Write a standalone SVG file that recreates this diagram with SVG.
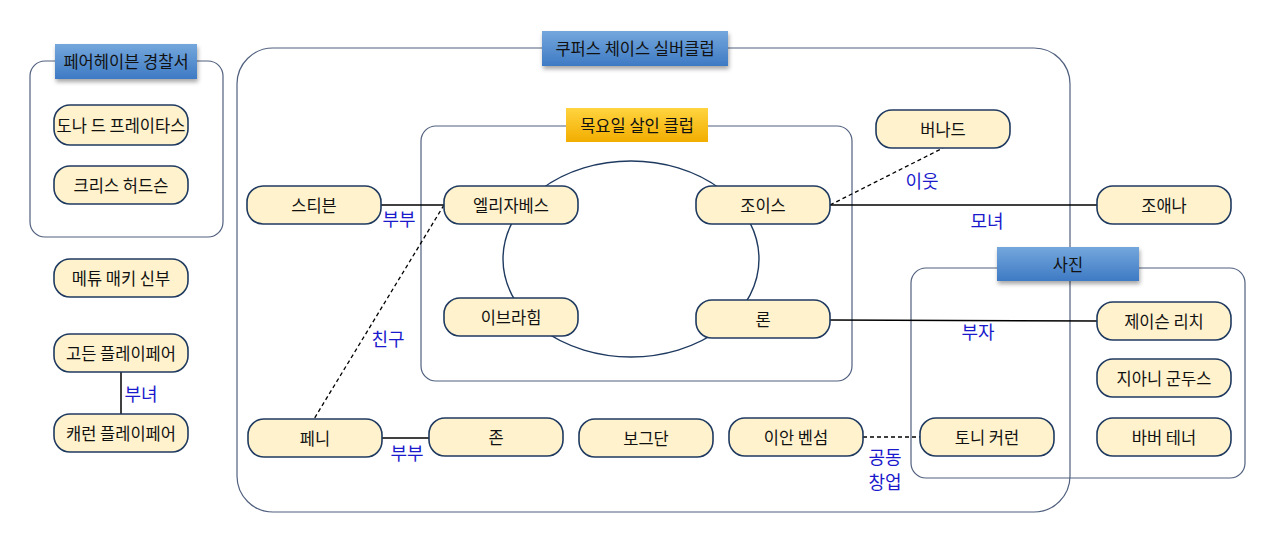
<svg xmlns="http://www.w3.org/2000/svg" width="1280" height="535" viewBox="0 0 1280 535">
<defs>
<linearGradient id="gBlue" x1="0" y1="0" x2="0" y2="1"><stop offset="0" stop-color="#74a7dc"/><stop offset="1" stop-color="#3e7ac4"/></linearGradient>
<linearGradient id="gGold" x1="0" y1="0" x2="0" y2="1"><stop offset="0" stop-color="#ffd43f"/><stop offset="1" stop-color="#f2ad00"/></linearGradient>
<filter id="sh" x="-10%" y="-20%" width="130%" height="160%"><feDropShadow dx="1" dy="3" stdDeviation="2" flood-color="#000" flood-opacity="0.35"/></filter>
</defs>
<style>
text{font-family:"Noto Sans CJK KR","Noto Sans",sans-serif;}
.c{fill:none;stroke:#50607e;stroke-width:1.2}
.n rect{fill:#fff2cc;stroke:#1f3a60;stroke-width:1.6}
.n text{font-size:16.5px;fill:#111;text-anchor:middle;dominant-baseline:central}
.t text{font-size:16.5px;fill:#111;text-anchor:middle;dominant-baseline:central}
.l{font-size:18px;fill:#1a1acc;text-anchor:middle;dominant-baseline:central}
.s{stroke:#000;stroke-width:1.5;fill:none}
.d{stroke:#000;stroke-width:1.3;stroke-dasharray:4 3;fill:none}
</style>
<rect width="1280" height="535" fill="#fff"/>
<g id="containers">
<rect class="c" x="237" y="48" width="833" height="464" rx="36"/>
<rect class="c" x="30" y="61" width="193" height="176" rx="15"/>
<rect class="c" x="421" y="126" width="431" height="255" rx="15"/>
<rect class="c" x="911" y="268" width="334" height="210" rx="15"/>
<ellipse cx="631" cy="259" rx="128" ry="98" fill="none" stroke="#1f3a60" stroke-width="1.4"/>
</g>
<g id="titles">
<g id="t-cooper" class="t"><rect x="542" y="31" width="186" height="35" fill="url(#gBlue)" filter="url(#sh)"/><text x="635" y="48">쿠퍼스 체이스 실버클럽</text></g>
<g id="t-police" class="t"><rect x="55" y="44" width="142" height="35" fill="url(#gBlue)" filter="url(#sh)"/><text x="126" y="61">페어헤이븐 경찰서</text></g>
<g id="t-club" class="t"><rect x="566" y="108" width="142" height="34" fill="url(#gGold)"/><text x="637" y="125">목요일 살인 클럽</text></g>
<g id="t-photo" class="t"><rect x="997" y="247" width="142" height="34" fill="url(#gBlue)" filter="url(#sh)"/><text x="1068" y="264">사진</text></g>
</g>
<g id="connectors">
<line class="s" x1="121" y1="372" x2="121" y2="414"/>
<line class="s" x1="381" y1="205" x2="444" y2="205"/>
<line class="d" x1="444" y1="205" x2="314" y2="419"/>
<line class="d" x1="830" y1="205" x2="943" y2="148"/>
<line class="s" x1="830" y1="205" x2="1097" y2="205"/>
<line class="s" x1="830" y1="320" x2="1097" y2="321"/>
<line class="s" x1="382" y1="438" x2="429" y2="438" stroke-width="2.5"/>
<line class="d" x1="863" y1="437" x2="920" y2="437"/>
<text class="l" x="141" y="393">부녀</text>
<text class="l" x="399" y="218">부부</text>
<text class="l" x="388" y="338">친구</text>
<text class="l" x="922" y="180">이웃</text>
<text class="l" x="987" y="220">모녀</text>
<text class="l" x="978" y="331">부자</text>
<text class="l" x="407" y="452">부부</text>
<text class="l" x="885" y="456">공동</text>
<text class="l" x="885" y="481">창업</text>
</g>
<g id="n-donna" class="n"><rect x="54" y="105" width="134" height="40" rx="16"/><text x="121" y="125">도나 드 프레이타스</text></g>
<g id="n-chris" class="n"><rect x="54" y="166" width="134" height="38" rx="16"/><text x="121" y="185">크리스 허드슨</text></g>
<g id="n-mackie" class="n"><rect x="54" y="259" width="134" height="38" rx="16"/><text x="121" y="278">메튜 매키 신부</text></g>
<g id="n-gordon" class="n"><rect x="54" y="334" width="134" height="38" rx="16"/><text x="121" y="353">고든 플레이페어</text></g>
<g id="n-karen" class="n"><rect x="54" y="414" width="134" height="38" rx="16"/><text x="121" y="433">캐런 플레이페어</text></g>
<g id="n-stephen" class="n"><rect x="247" y="186" width="134" height="38" rx="16"/><text x="314" y="205">스티븐</text></g>
<g id="n-elizabeth" class="n"><rect x="444" y="186" width="134" height="38" rx="16"/><text x="511" y="205">엘리자베스</text></g>
<g id="n-joyce" class="n"><rect x="696" y="186" width="134" height="38" rx="16"/><text x="763" y="205">조이스</text></g>
<g id="n-bernard" class="n"><rect x="876" y="110" width="134" height="38" rx="16"/><text x="943" y="129">버나드</text></g>
<g id="n-joanna" class="n"><rect x="1097" y="186" width="134" height="38" rx="16"/><text x="1164" y="205">조애나</text></g>
<g id="n-ibrahim" class="n"><rect x="444" y="298" width="134" height="38" rx="16"/><text x="511" y="317">이브라힘</text></g>
<g id="n-ron" class="n"><rect x="696" y="300" width="134" height="38" rx="16"/><text x="763" y="319">론</text></g>
<g id="n-jason" class="n"><rect x="1097" y="302" width="134" height="38" rx="16"/><text x="1164" y="321">제이슨 리치</text></g>
<g id="n-gianni" class="n"><rect x="1097" y="359" width="134" height="38" rx="16"/><text x="1164" y="378">지아니 군두스</text></g>
<g id="n-bobby" class="n"><rect x="1097" y="418" width="134" height="38" rx="16"/><text x="1164" y="437">바버 테너</text></g>
<g id="n-penny" class="n"><rect x="248" y="419" width="134" height="38" rx="16"/><text x="315" y="438">페니</text></g>
<g id="n-john" class="n"><rect x="429" y="418" width="134" height="38" rx="16"/><text x="496" y="437">존</text></g>
<g id="n-bogdan" class="n"><rect x="579" y="419" width="134" height="38" rx="16"/><text x="646" y="438">보그단</text></g>
<g id="n-ian" class="n"><rect x="729" y="418" width="134" height="38" rx="16"/><text x="796" y="437">이안 벤섬</text></g>
<g id="n-tony" class="n"><rect x="920" y="418" width="134" height="38" rx="16"/><text x="987" y="437">토니 커런</text></g>
</svg>
